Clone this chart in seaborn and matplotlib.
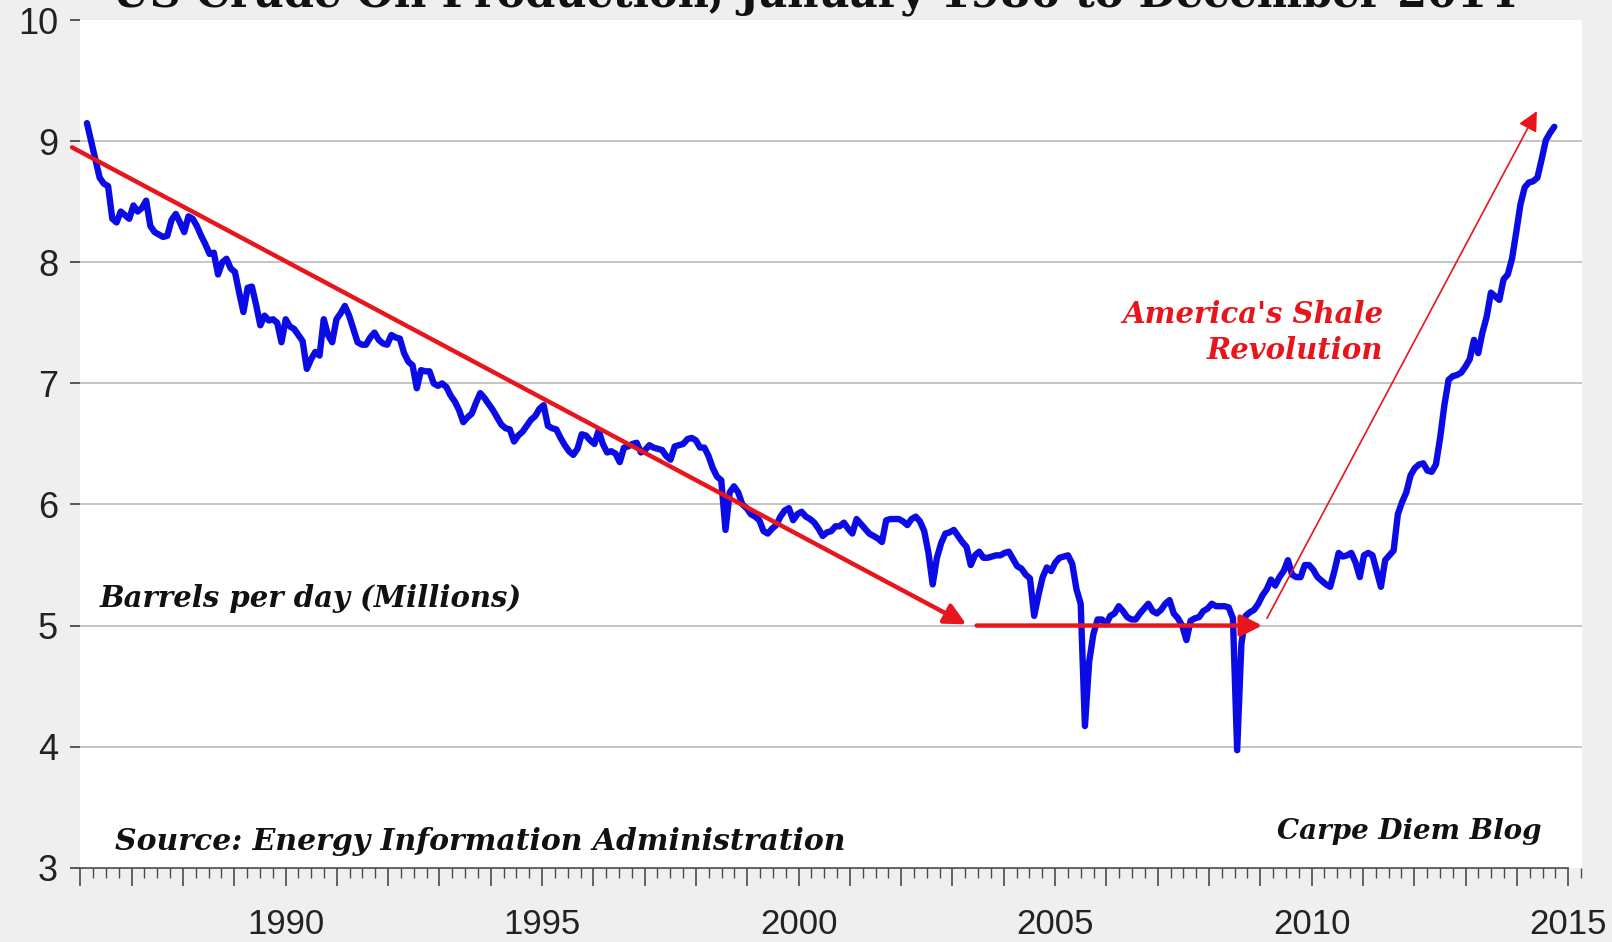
import numpy as np
import pandas as pd
import seaborn as sns
import matplotlib.pyplot as plt
from matplotlib.ticker import MultipleLocator, FuncFormatter

# US crude oil production, million barrels per day, one value per month
prod_1986 = [9.15, 9.00, 8.85, 8.70, 8.65, 8.63, 8.36, 8.33, 8.42, 8.39, 8.36, 8.47]
prod_1987 = [8.42, 8.45, 8.51, 8.30, 8.25, 8.23, 8.21, 8.22, 8.35, 8.40, 8.33, 8.25]
prod_1988 = [8.38, 8.36, 8.30, 8.22, 8.15, 8.07, 8.08, 7.90, 8.00, 8.03, 7.95, 7.92]
prod_1989 = [7.75, 7.59, 7.79, 7.80, 7.65, 7.48, 7.56, 7.52, 7.53, 7.50, 7.34, 7.53]
prod_1990 = [7.47, 7.45, 7.40, 7.35, 7.12, 7.20, 7.26, 7.23, 7.53, 7.40, 7.34, 7.53]
prod_1991 = [7.58, 7.64, 7.56, 7.45, 7.34, 7.32, 7.32, 7.38, 7.42, 7.36, 7.33, 7.32]
prod_1992 = [7.40, 7.38, 7.37, 7.25, 7.18, 7.15, 6.96, 7.11, 7.10, 7.10, 7.00, 6.98]
prod_1993 = [7.00, 6.97, 6.90, 6.85, 6.78, 6.68, 6.72, 6.75, 6.84, 6.92, 6.88, 6.83]
prod_1994 = [6.78, 6.72, 6.66, 6.63, 6.62, 6.52, 6.57, 6.60, 6.65, 6.70, 6.73, 6.79]
prod_1995 = [6.82, 6.65, 6.63, 6.62, 6.55, 6.49, 6.44, 6.41, 6.46, 6.58, 6.57, 6.53]
prod_1996 = [6.50, 6.61, 6.50, 6.43, 6.44, 6.42, 6.35, 6.47, 6.48, 6.50, 6.51, 6.43]
prod_1997 = [6.45, 6.49, 6.47, 6.46, 6.45, 6.40, 6.37, 6.48, 6.49, 6.50, 6.54, 6.55]
prod_1998 = [6.53, 6.47, 6.47, 6.40, 6.30, 6.23, 6.20, 5.79, 6.10, 6.15, 6.10, 6.00]
prod_1999 = [5.97, 5.92, 5.90, 5.87, 5.78, 5.76, 5.80, 5.83, 5.90, 5.95, 5.97, 5.87]
prod_2000 = [5.92, 5.94, 5.90, 5.88, 5.85, 5.80, 5.74, 5.77, 5.78, 5.82, 5.82, 5.85]
prod_2001 = [5.80, 5.76, 5.88, 5.84, 5.80, 5.76, 5.74, 5.72, 5.69, 5.87, 5.88, 5.88]
prod_2002 = [5.88, 5.86, 5.83, 5.88, 5.90, 5.86, 5.78, 5.60, 5.34, 5.56, 5.68, 5.76]
prod_2003 = [5.77, 5.79, 5.74, 5.69, 5.65, 5.50, 5.58, 5.61, 5.56, 5.56, 5.57, 5.58]
prod_2004 = [5.58, 5.60, 5.61, 5.55, 5.49, 5.47, 5.42, 5.39, 5.08, 5.25, 5.40, 5.48]
prod_2005 = [5.45, 5.52, 5.56, 5.57, 5.58, 5.51, 5.30, 5.18, 4.17, 4.70, 4.93, 5.05]
prod_2006 = [5.05, 5.01, 5.08, 5.10, 5.16, 5.12, 5.07, 5.05, 5.05, 5.10, 5.14, 5.18]
prod_2007 = [5.12, 5.10, 5.13, 5.18, 5.21, 5.10, 5.06, 5.00, 4.88, 5.04, 5.06, 5.07]
prod_2008 = [5.12, 5.14, 5.18, 5.16, 5.16, 5.16, 5.15, 5.06, 3.97, 4.85, 5.08, 5.11]
prod_2009 = [5.13, 5.18, 5.25, 5.30, 5.38, 5.33, 5.40, 5.45, 5.54, 5.42, 5.40, 5.40]
prod_2010 = [5.50, 5.50, 5.46, 5.40, 5.37, 5.34, 5.32, 5.45, 5.60, 5.57, 5.58, 5.60]
prod_2011 = [5.52, 5.40, 5.58, 5.60, 5.58, 5.45, 5.32, 5.54, 5.58, 5.62, 5.92, 6.02]
prod_2012 = [6.10, 6.24, 6.30, 6.33, 6.34, 6.28, 6.27, 6.33, 6.55, 6.82, 7.03, 7.06]
prod_2013 = [7.07, 7.09, 7.14, 7.20, 7.36, 7.25, 7.42, 7.55, 7.75, 7.72, 7.69, 7.86]
prod_2014 = [7.90, 8.03, 8.25, 8.48, 8.62, 8.66, 8.67, 8.70, 8.85, 9.01, 9.07, 9.12]

year_labels = [1990, 1995, 2000, 2005, 2010, 2015]
y_ticks = [3, 4, 5, 6, 7, 8, 9, 10]

title = "US Crude Oil Production, January 1986 to December 2014"

# %%
production = np.concatenate([prod_1986, prod_1987, prod_1988, prod_1989, prod_1990,
                             prod_1991, prod_1992, prod_1993, prod_1994, prod_1995,
                             prod_1996, prod_1997, prod_1998, prod_1999, prod_2000,
                             prod_2001, prod_2002, prod_2003, prod_2004, prod_2005,
                             prod_2006, prod_2007, prod_2008, prod_2009, prod_2010,
                             prod_2011, prod_2012, prod_2013, prod_2014])
months = pd.date_range("1986-01-01", periods=len(production), freq="MS")
# the excel chart spreads the months slightly inside the year axis
month_pos = 1986.13 + np.arange(len(months)) * 28.6 / (len(months) - 1)
df = pd.DataFrame({"date": months, "pos": month_pos, "flow": production})

# %%
sns.set_theme(style="white")
plt.rcParams['font.family'] = ['Liberation Sans', 'DejaVu Sans']

red = '#e8161c'
blue = '#0b0be6'
serif = ['DejaVu Serif']

fig = plt.figure(figsize=(16.12, 9.42), dpi=100, facecolor='#efefef')
ax = fig.add_axes([0.0498, 0.0789, 0.9316, 0.8996])
ax.set_facecolor('white')

sns.lineplot(data=df, x='pos', y='flow', ax=ax, color=blue, linewidth=4.6,
             estimator=None, zorder=3)

ax.set_xlim(1986, 2015.27)
ax.set_ylim(3, 10)
ax.set_xlabel('')
ax.set_ylabel('')

ax.xaxis.set_major_locator(MultipleLocator(1))
ax.xaxis.set_minor_locator(MultipleLocator(0.25))
ax.xaxis.set_major_formatter(FuncFormatter(
    lambda v, p: str(int(round(v))) if int(round(v)) in year_labels else ''))
ax.set_yticks(y_ticks)
ax.set_yticklabels([str(v) for v in y_ticks])

for s in ['left', 'top', 'right']:
    ax.spines[s].set_visible(False)
ax.spines['bottom'].set_color('#4a4a4a')
ax.spines['bottom'].set_linewidth(1.2)
ax.spines['bottom'].set_bounds(1986, 2015)

ax.tick_params(axis='x', which='major', length=13, width=1.2, color='#4a4a4a',
               direction='out', pad=16, labelsize=25, labelcolor='#222222', bottom=True)
ax.tick_params(axis='x', which='minor', length=7, width=1.0, color='#4a4a4a',
               direction='out', bottom=True)
ax.tick_params(axis='y', length=7, width=1.3, color='#4a4a4a', pad=9,
               labelsize=26, labelcolor='#222222', left=True)

ax.grid(axis='y', color='#c4c4c4', linewidth=1.4, zorder=0)
ax.grid(axis='x', visible=False)
yt = ax.yaxis.get_major_ticks()
yt[0].gridline.set_visible(False)
yt[-1].gridline.set_visible(False)

# red trend arrows
ax.annotate('', xy=(2003.27, 5.01), xytext=(1985.84, 8.95), annotation_clip=False,
            arrowprops=dict(arrowstyle='-|>', color=red, lw=3.2, mutation_scale=32,
                            shrinkA=0, shrinkB=0), zorder=4)
ax.annotate('', xy=(2009.04, 5.0), xytext=(2003.47, 5.0),
            arrowprops=dict(arrowstyle='-|>', color=red, lw=3.2, mutation_scale=32,
                            shrinkA=0, shrinkB=0), zorder=4)
ax.annotate('', xy=(2014.39, 9.25), xytext=(2009.13, 5.06),
            arrowprops=dict(arrowstyle='-|>', color=red, lw=1.2, mutation_scale=30,
                            shrinkA=0, shrinkB=0), zorder=4)

ax.text(2011.40, 7.42, "America's Shale\nRevolution", color=red, ha='right',
        va='center', multialignment='right', fontsize=21, fontstyle='italic',
        fontweight='bold', family=serif, linespacing=1.3)
ax.text(1986.38, 5.22, "Barrels per day (Millions)", ha='left', va='center',
        fontsize=21, fontstyle='italic', fontweight='bold', family=serif, color='#111111')
ax.text(1986.68, 3.22, "Source: Energy Information Administration", ha='left',
        va='center', fontsize=21.5, fontstyle='italic', fontweight='bold', family=serif,
        color='#111111')
ax.text(2014.49, 3.30, "Carpe Diem Blog", ha='right', va='center', fontsize=20,
        fontstyle='italic', fontweight='bold', family=serif, color='#111111')

# title sits mostly above the canvas, as in the cropped original
fig.text(0.505, 1 - 7 / 942, title, ha='center', va='baseline', fontsize=31,
         fontweight='bold', family=serif, color='#111111')

fig.savefig('out.png', dpi=100, facecolor=fig.get_facecolor())
